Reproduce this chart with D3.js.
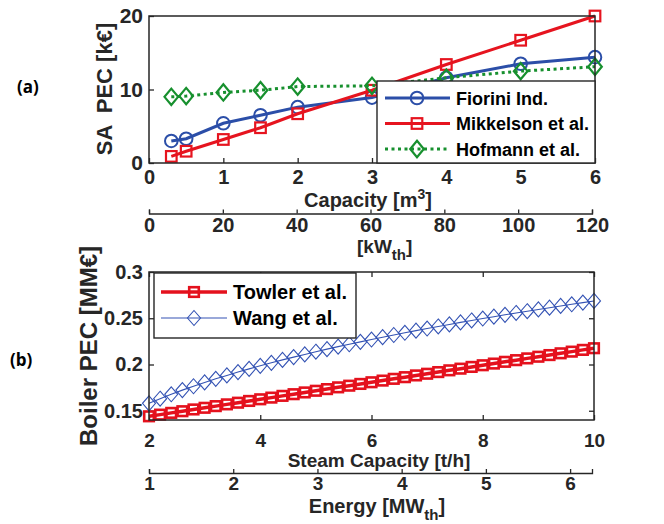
<!DOCTYPE html>
<html>
<head>
<meta charset="utf-8">
<script src="https://cdn.jsdelivr.net/npm/d3@7"></script>
<style>
  body { margin: 0; background: #fff; }
  svg text { font-family: "Liberation Sans", Arial, sans-serif; font-weight: bold; }
</style>
</head>
<body>
<svg id="fig" width="664" height="524"></svg>
<script>
// (a) storage tank cost vs capacity
const capacity = [0.3, 0.5, 1, 1.5, 2, 3, 4, 5, 6];
const fiorini = [3.0, 3.3, 5.4, 6.5, 7.6, 8.9, 11.6, 13.5, 14.4];
const mikkelson = [0.9, 1.6, 3.2, 4.8, 6.7, 9.9, 13.4, 16.7, 20.0];
const hofmann = [9.0, 9.1, 9.6, 9.9, 10.4, 10.5, 11.6, 12.5, 13.1];
const capTicks = [0, 1, 2, 3, 4, 5, 6];
const pecTicks = [0, 10, 20];
const kwTicks = [0, 20, 40, 60, 80, 100, 120];

// (b) boiler cost vs steam capacity
const steam = [2, 2.2, 2.4, 2.6, 2.8, 3, 3.2, 3.4, 3.6, 3.8, 4, 4.2, 4.4, 4.6, 4.8, 5,
  5.2, 5.4, 5.6, 5.8, 6, 6.2, 6.4, 6.6, 6.8, 7, 7.2, 7.4, 7.6, 7.8, 8, 8.2, 8.4, 8.6,
  8.8, 9, 9.2, 9.4, 9.6, 9.8, 10];
const towler = [0.144, 0.1458, 0.1477, 0.1495, 0.1514, 0.1532, 0.155, 0.1569, 0.1587,
  0.1606, 0.1624, 0.1642, 0.1661, 0.1679, 0.1698, 0.1716, 0.1734, 0.1753, 0.1771, 0.179,
  0.1808, 0.1826, 0.1845, 0.1863, 0.1882, 0.19, 0.1918, 0.1937, 0.1955, 0.1974, 0.1992,
  0.201, 0.2029, 0.2047, 0.2066, 0.2084, 0.2102, 0.2121, 0.2139, 0.2158, 0.2176];
const wang = [0.158, 0.163, 0.1678, 0.1723, 0.1765, 0.1806, 0.1845, 0.1882, 0.1918,
  0.1953, 0.1986, 0.2018, 0.205, 0.208, 0.2109, 0.2138, 0.2166, 0.2193, 0.2219, 0.2245,
  0.227, 0.2295, 0.2319, 0.2343, 0.2366, 0.2389, 0.2411, 0.2433, 0.2455, 0.2476, 0.2497,
  0.2517, 0.2537, 0.2557, 0.2576, 0.2595, 0.2614, 0.2633, 0.2651, 0.2669, 0.2687];
const steamTicks = [2, 4, 6, 8, 10];
const boilerTicks = [0.15, 0.2, 0.25, 0.3];
const mwTicks = [1, 2, 3, 4, 5, 6];

const axisColor = "#262626";
const plain = d => String(d);
const svg = d3.select("#fig");

// scales
const xa = d3.scaleLinear().domain([0, 6]).range([149, 595]);
const ya = d3.scaleLinear().domain([0, 20]).range([163, 16]);
const kw = d3.scaleLinear().domain([0, 120]).range([149, 592]);
const xb = d3.scaleLinear().domain([2, 10]).range([149, 594]);
const yb = d3.scaleLinear().domain([0.14, 0.3]).range([420, 272]);
const mw = d3.scaleLinear().domain([1, 6.26]).range([149, 592]);

function styleAxis(g, size, keepDomain) {
  g.attr("font-family", null).attr("font-size", null);
  if (!keepDomain) g.select(".domain").remove();
  g.selectAll("line").attr("stroke", axisColor).attr("stroke-width", 1.3);
  g.select(".domain").attr("stroke", axisColor).attr("stroke-width", 1.3);
  g.selectAll("text").attr("fill", axisColor).style("font-size", size + "px");
}

function diamond(w, h) {
  return `M0,${-h}L${w},0L0,${h}L${-w},0Z`;
}

// ---------- panel (a) ----------
const ga = svg.append("g");

ga.append("g").attr("transform", `translate(0,${ya.range()[0]})`)
  .call(d3.axisBottom(xa).tickValues(capTicks).tickFormat(plain).tickSize(-5).tickPadding(7))
  .call(g => styleAxis(g, 20));
ga.append("g").attr("transform", `translate(${xa.range()[0]},0)`)
  .call(d3.axisLeft(ya).tickValues(pecTicks).tickFormat(plain).tickSize(-5).tickPadding(6))
  .call(g => styleAxis(g, 21));

const seriesA = [
  { name: "Fiorini Ind.", values: fiorini, color: "#2b4ea8", dash: null, mark: "circle" },
  { name: "Mikkelson et al.", values: mikkelson, color: "#e6141f", dash: null, mark: "square" },
  { name: "Hofmann et al.", values: hofmann, color: "#17902e", dash: "3,3.5", mark: "diamond" }
];

function marker(sel, kind, color, cx, cy) {
  if (kind === "circle") {
    sel.append("circle").attr("cx", cx).attr("cy", cy).attr("r", 6.3)
      .attr("fill", "none").attr("stroke", color).attr("stroke-width", 2);
  } else if (kind === "square") {
    sel.append("rect").attr("x", cx - 5.3).attr("y", cy - 5.3).attr("width", 10.6).attr("height", 10.6)
      .attr("fill", "none").attr("stroke", color).attr("stroke-width", 2.2);
  } else {
    sel.append("path").attr("transform", `translate(${cx},${cy})`).attr("d", diamond(6.8, 8.2))
      .attr("fill", "none").attr("stroke", color).attr("stroke-width", 2.2);
  }
}

seriesA.forEach(s => {
  const line = d3.line().x((d, i) => xa(capacity[i])).y(d => ya(d));
  ga.append("path").datum(s.values).attr("d", line)
    .attr("fill", "none").attr("stroke", s.color).attr("stroke-width", 3)
    .attr("stroke-dasharray", s.dash);
  s.values.forEach((v, i) => marker(ga, s.mark, s.color, xa(capacity[i]), ya(v)));
});

// box
ga.append("rect").attr("x", xa.range()[0]).attr("y", ya.range()[1])
  .attr("width", xa.range()[1] - xa.range()[0]).attr("height", ya.range()[0] - ya.range()[1])
  .attr("fill", "none").attr("stroke", axisColor).attr("stroke-width", 1.5);

// legend (a)
const lga = ga.append("g");
lga.append("rect").attr("x", 377).attr("y", 81).attr("width", 218).attr("height", 82)
  .attr("fill", "#fff").attr("stroke", axisColor).attr("stroke-width", 1.4);
seriesA.forEach((s, i) => {
  const y = 98 + i * 25.5;
  lga.append("line").attr("x1", 385).attr("x2", 450).attr("y1", y).attr("y2", y)
    .attr("stroke", s.color).attr("stroke-width", 3).attr("stroke-dasharray", s.dash);
  marker(lga, s.mark, s.color, 417, y);
  lga.append("text").attr("x", 456).attr("y", y + 6.5).attr("fill", "#000")
    .style("font-size", "18px").text(s.name);
});

// x label and secondary kW axis
ga.append("text").attr("x", 368).attr("y", 207).attr("text-anchor", "middle")
  .attr("fill", axisColor).style("font-size", "20px")
  .call(t => {
    t.append("tspan").text("Capacity [m");
    t.append("tspan").attr("dy", -8).style("font-size", "14px").text("3");
    t.append("tspan").attr("dy", 8).text("]");
  });

ga.append("g").attr("transform", "translate(0,213.5)")
  .call(d3.axisBottom(kw).tickValues(kwTicks).tickFormat(plain).tickSize(-4).tickSizeOuter(-4).tickPadding(4))
  .call(g => styleAxis(g, 20, true));

ga.append("text").attr("x", 357).attr("y", 253).attr("fill", axisColor).style("font-size", "19px")
  .call(t => {
    t.append("tspan").text("[kW");
    t.append("tspan").attr("dy", 7).style("font-size", "15px").text("th");
    t.append("tspan").attr("dy", -7).text("]");
  });

ga.append("text").attr("transform", "translate(112,89) rotate(-90)").attr("text-anchor", "middle")
  .attr("fill", axisColor).style("font-size", "22px").style("white-space", "pre")
  .text("SA  PEC [k€]");

svg.append("text").attr("x", 17).attr("y", 93).attr("fill", "#000")
  .style("font-family", "'Open Sans', 'Noto Sans', sans-serif").style("font-size", "17px")
  .text("(a)");

// ---------- panel (b) ----------
const gb = svg.append("g");

gb.append("g").attr("transform", `translate(0,${yb.range()[0]})`)
  .call(d3.axisBottom(xb).tickValues(steamTicks).tickFormat(plain).tickSize(-5).tickPadding(14))
  .call(g => styleAxis(g, 19));
gb.append("g").attr("transform", `translate(0,${yb.range()[1]})`)
  .call(d3.axisTop(xb).tickValues(steamTicks).tickSize(-5).tickFormat(""))
  .call(g => styleAxis(g, 19));
gb.append("g").attr("transform", `translate(${xb.range()[0]},0)`)
  .call(d3.axisLeft(yb).tickValues(boilerTicks).tickFormat(plain).tickSize(-5).tickPadding(6))
  .call(g => styleAxis(g, 20));
gb.append("g").attr("transform", `translate(${xb.range()[1]},0)`)
  .call(d3.axisRight(yb).tickValues(boilerTicks).tickSize(-5).tickFormat(""))
  .call(g => styleAxis(g, 20));

const redB = "#e4111d";
const blueB = "#3453b4";

const lineB = vals => d3.line().x((d, i) => xb(steam[i])).y(d => yb(d))(vals);

gb.append("path").attr("d", lineB(towler)).attr("fill", "none")
  .attr("stroke", redB).attr("stroke-width", 3.5);
towler.forEach((v, i) => {
  gb.append("rect").attr("x", xb(steam[i]) - 4.8).attr("y", yb(v) - 4.8)
    .attr("width", 9.6).attr("height", 9.6)
    .attr("fill", "none").attr("stroke", redB).attr("stroke-width", 2.6);
});

gb.append("path").attr("d", lineB(wang)).attr("fill", "none")
  .attr("stroke", blueB).attr("stroke-width", 1.1);
wang.forEach((v, i) => {
  gb.append("path").attr("transform", `translate(${xb(steam[i])},${yb(v)})`)
    .attr("d", diamond(6.5, 7.5)).attr("fill", "none")
    .attr("stroke", blueB).attr("stroke-width", 1.1);
});

gb.append("rect").attr("x", xb.range()[0]).attr("y", yb.range()[1])
  .attr("width", xb.range()[1] - xb.range()[0]).attr("height", yb.range()[0] - yb.range()[1])
  .attr("fill", "none").attr("stroke", axisColor).attr("stroke-width", 1.5);

// legend (b)
const lgb = gb.append("g");
lgb.append("rect").attr("x", 154).attr("y", 273).attr("width", 202).attr("height", 65)
  .attr("fill", "#fff").attr("stroke", axisColor).attr("stroke-width", 1.4);
lgb.append("line").attr("x1", 161).attr("x2", 227).attr("y1", 292).attr("y2", 292)
  .attr("stroke", redB).attr("stroke-width", 3.5);
lgb.append("rect").attr("x", 194 - 4.8).attr("y", 292 - 4.8).attr("width", 9.6).attr("height", 9.6)
  .attr("fill", "none").attr("stroke", redB).attr("stroke-width", 2.6);
lgb.append("text").attr("x", 233).attr("y", 299).attr("fill", "#000")
  .style("font-size", "20px").text("Towler et al.");
lgb.append("line").attr("x1", 161).attr("x2", 227).attr("y1", 318).attr("y2", 318)
  .attr("stroke", blueB).attr("stroke-width", 1.1);
lgb.append("path").attr("transform", "translate(194,318)").attr("d", diamond(6.5, 7.5))
  .attr("fill", "none").attr("stroke", blueB).attr("stroke-width", 1.1);
lgb.append("text").attr("x", 233).attr("y", 325).attr("fill", "#000")
  .style("font-size", "20px").text("Wang et al.");

gb.append("text").attr("x", 379).attr("y", 467).attr("text-anchor", "middle")
  .attr("fill", axisColor).style("font-size", "19px").text("Steam Capacity [t/h]");

gb.append("g").attr("transform", "translate(0,473)")
  .call(d3.axisBottom(mw).tickValues(mwTicks).tickFormat(plain).tickSize(-4).tickSizeOuter(-4).tickPadding(4))
  .call(g => styleAxis(g, 19, true));

gb.append("text").attr("x", 377).attr("y", 513).attr("text-anchor", "middle")
  .attr("fill", axisColor).style("font-size", "20px")
  .call(t => {
    t.append("tspan").text("Energy [MW");
    t.append("tspan").attr("dy", 7).style("font-size", "15px").text("th");
    t.append("tspan").attr("dy", -7).text("]");
  });

gb.append("text").attr("transform", "translate(97,346) rotate(-90)").attr("text-anchor", "middle")
  .attr("fill", axisColor).style("font-size", "24px").text("Boiler PEC [MM€]");

svg.append("text").attr("x", 10).attr("y", 366).attr("fill", "#000")
  .style("font-family", "'Open Sans', 'Noto Sans', sans-serif").style("font-size", "17px")
  .text("(b)");
</script>
</body>
</html>
